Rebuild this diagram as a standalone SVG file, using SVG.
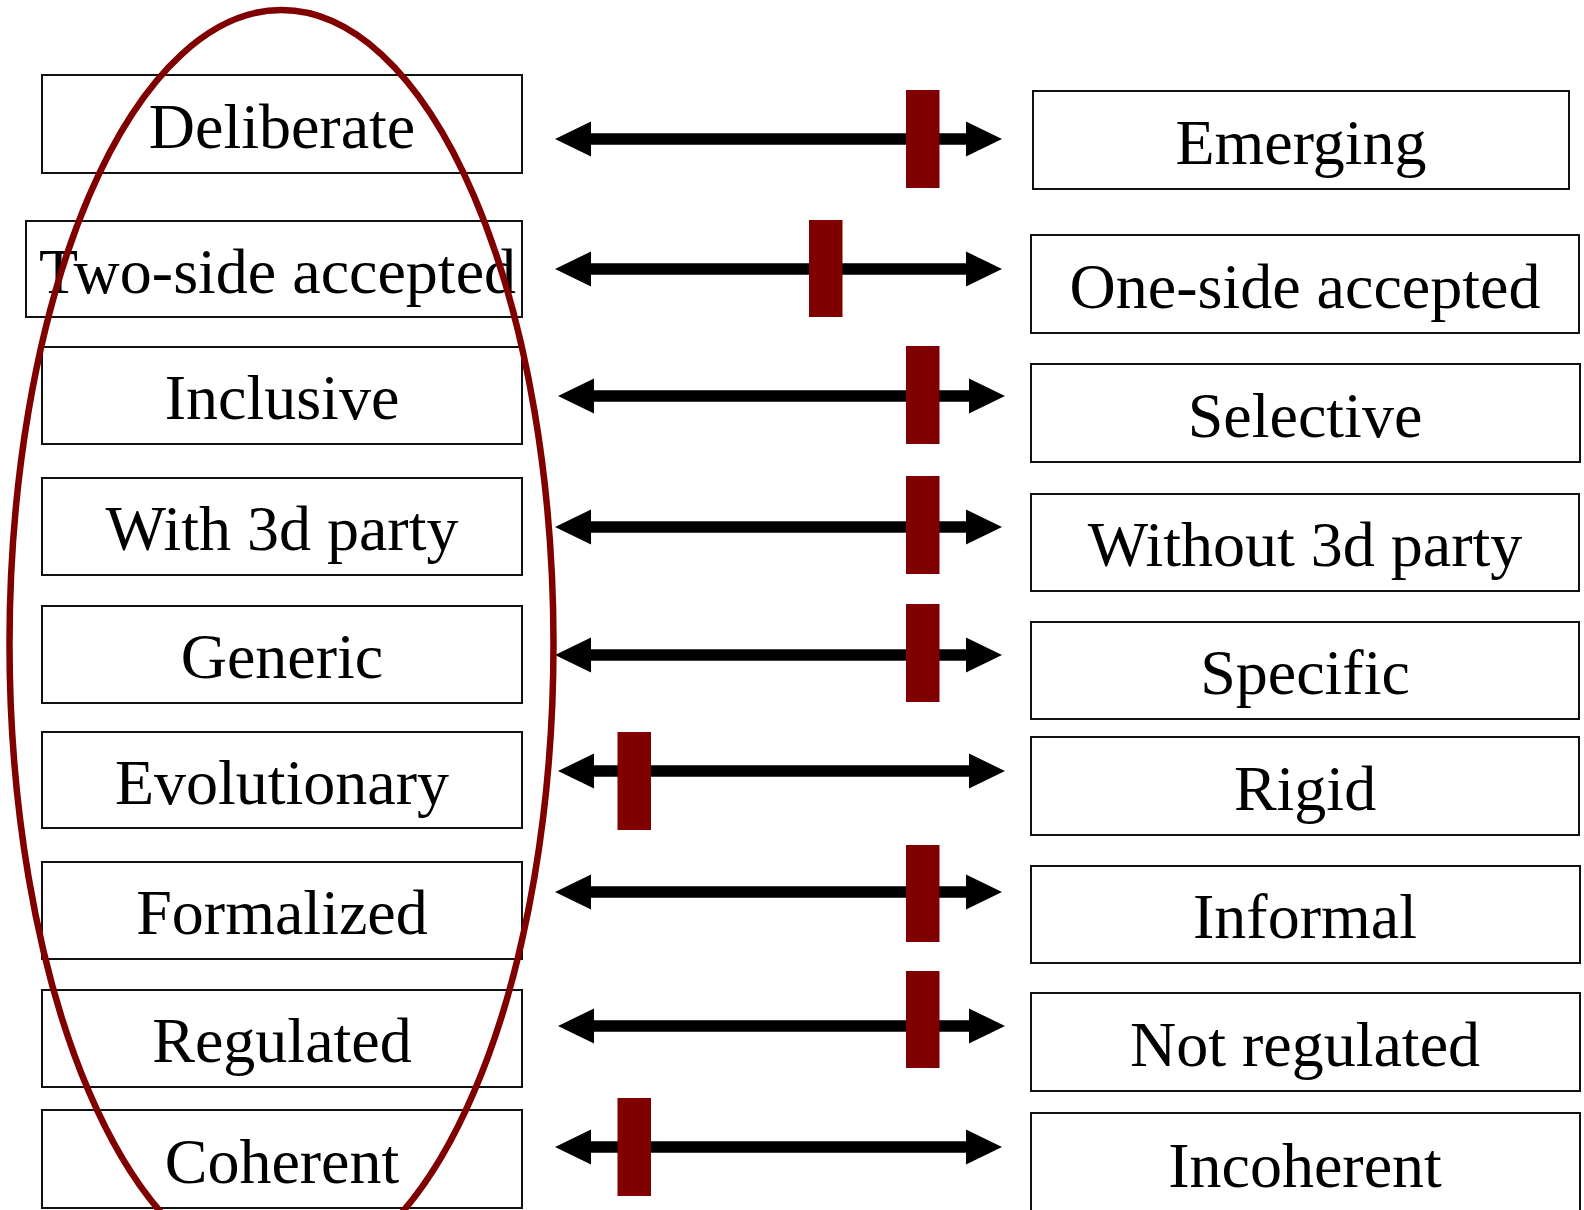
<svg xmlns="http://www.w3.org/2000/svg" width="1584" height="1210" viewBox="0 0 1584 1210">
  <style>
    .box { fill: #ffffff; stroke: #111111; stroke-width: 2; }
    .lbl { font-family: "Liberation Serif", "Times New Roman", serif; font-size: 64px; fill: #000000; text-anchor: middle; }
    .shaft { stroke: #000000; stroke-width: 11.5; fill: none; }
    .head { fill: #000000; }
    .mark { fill: #800000; }
    .oval { fill: none; stroke: #800000; stroke-width: 6.5; }
  </style>
  <defs>
    <!-- double-headed scale arrow, local origin at the left tip -->
    <g id="scale">
      <line class="shaft" x1="30" y1="0" x2="417" y2="0"/>
      <polygon class="head" points="0,0 36,-17.5 36,17.5"/>
      <polygon class="head" points="447,0 411,-17.5 411,17.5"/>
    </g>
  </defs>

  <rect width="1584" height="1210" fill="#ffffff"/>

  <!-- left column -->
  <g id="left-deliberate"><rect class="box" x="42" y="75" width="480" height="98"/><text class="lbl" x="282" y="147.5">Deliberate</text></g>
  <g id="left-two-side"><rect class="box" x="26" y="221" width="496" height="96"/><text class="lbl" x="277.5" y="292.5">Two-side accepted</text></g>
  <g id="left-inclusive"><rect class="box" x="42" y="347" width="480" height="97"/><text class="lbl" x="282" y="419">Inclusive</text></g>
  <g id="left-with-3d"><rect class="box" x="42" y="478" width="480" height="97"/><text class="lbl" x="282" y="550">With 3d party</text></g>
  <g id="left-generic"><rect class="box" x="42" y="606" width="480" height="97"/><text class="lbl" x="282" y="678">Generic</text></g>
  <g id="left-evolutionary"><rect class="box" x="42" y="732" width="480" height="96"/><text class="lbl" x="282" y="803.5">Evolutionary</text></g>
  <g id="left-formalized"><rect class="box" x="42" y="862" width="480" height="97"/><text class="lbl" x="282" y="933.5">Formalized</text></g>
  <g id="left-regulated"><rect class="box" x="42" y="990" width="480" height="97"/><text class="lbl" x="282" y="1062">Regulated</text></g>
  <g id="left-coherent"><rect class="box" x="42" y="1110" width="480" height="98"/><text class="lbl" x="282" y="1182.5">Coherent</text></g>

  <!-- right column -->
  <g id="right-emerging"><rect class="box" x="1033" y="91" width="536" height="98"/><text class="lbl" x="1301" y="164">Emerging</text></g>
  <g id="right-one-side"><rect class="box" x="1031" y="235" width="548" height="98"/><text class="lbl" x="1305" y="307.5">One-side accepted</text></g>
  <g id="right-selective"><rect class="box" x="1031" y="364" width="549" height="98"/><text class="lbl" x="1305" y="436.5">Selective</text></g>
  <g id="right-without-3d"><rect class="box" x="1031" y="494" width="548" height="97"/><text class="lbl" x="1305" y="566">Without 3d party</text></g>
  <g id="right-specific"><rect class="box" x="1031" y="622" width="548" height="97"/><text class="lbl" x="1305" y="694">Specific</text></g>
  <g id="right-rigid"><rect class="box" x="1031" y="737" width="548" height="98"/><text class="lbl" x="1305" y="809.5">Rigid</text></g>
  <g id="right-informal"><rect class="box" x="1031" y="866" width="549" height="97"/><text class="lbl" x="1305" y="938">Informal</text></g>
  <g id="right-not-regulated"><rect class="box" x="1031" y="993" width="549" height="98"/><text class="lbl" x="1305" y="1065.5">Not regulated</text></g>
  <g id="right-incoherent"><rect class="box" x="1031" y="1113" width="549" height="110"/><text class="lbl" x="1305" y="1187">Incoherent</text></g>

  <!-- scales with position markers -->
  <g id="connectors">
    <use href="#scale" x="555" y="139"/>
    <rect class="mark" x="906" y="90" width="33.5" height="98"/>

    <use href="#scale" x="555" y="269"/>
    <rect class="mark" x="809" y="220" width="33.5" height="97"/>

    <use href="#scale" x="558" y="396"/>
    <rect class="mark" x="906" y="346" width="33.5" height="98"/>

    <use href="#scale" x="555" y="527"/>
    <rect class="mark" x="906" y="476" width="33.5" height="98"/>

    <use href="#scale" x="555" y="655"/>
    <rect class="mark" x="906" y="604" width="33.5" height="98"/>

    <use href="#scale" x="558" y="771"/>
    <rect class="mark" x="617.5" y="732" width="33.5" height="98"/>

    <use href="#scale" x="555" y="892"/>
    <rect class="mark" x="906" y="845" width="33.5" height="97"/>

    <use href="#scale" x="558" y="1026"/>
    <rect class="mark" x="906" y="971" width="33.5" height="97"/>

    <use href="#scale" x="555" y="1147"/>
    <rect class="mark" x="617.5" y="1098" width="33.5" height="98"/>
  </g>

  <!-- highlight around the left column -->
  <g id="highlight">
    <ellipse class="oval" cx="281.5" cy="644" rx="272" ry="634"/>
  </g>
</svg>
